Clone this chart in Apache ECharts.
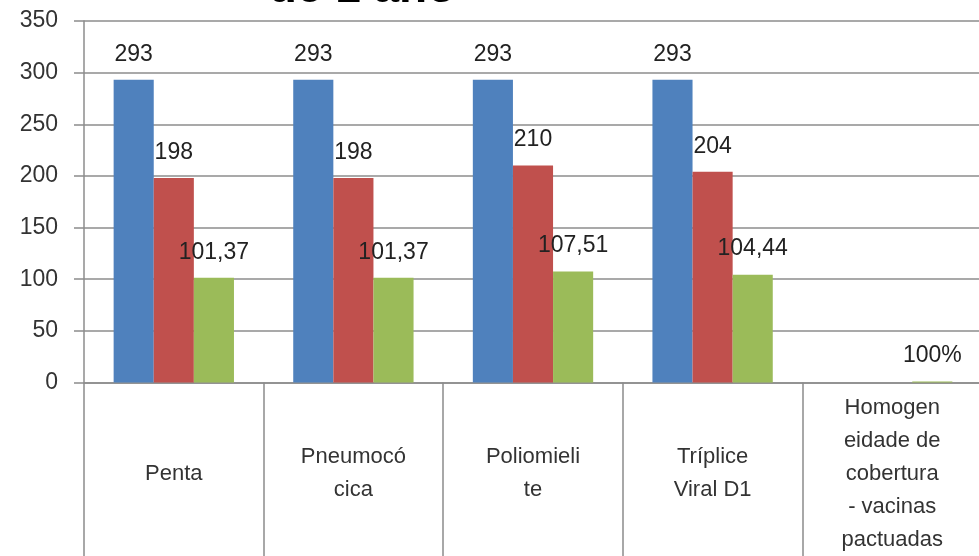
<!DOCTYPE html>
<html>
<head>
<meta charset="utf-8">
<script src="https://cdn.jsdelivr.net/npm/echarts@6/dist/echarts.min.js"></script>
<style>
  html, body { margin: 0; padding: 0; background: #fff; overflow: hidden; }
  #chart { width: 990px; height: 556px; }
</style>
</head>
<body>
<div id="chart"></div>
<script>
// categories (line breaks as in the picture)
var categories = [
  'Penta',
  'Pneumocó\ncica',
  'Poliomieli\nte',
  'Tríplice\nViral D1',
  'Homogen\neidade de\ncobertura\n- vacinas\npactuadas'
];
var blueValues = [293, 293, 293, 293, null];
var redValues = [198, 198, 210, 204, null];
var greenValues = [101.37, 101.37, 107.51, 104.44, 1];
var greenLabels = ['101,37', '101,37', '107,51', '104,44', '100%'];
var yTicks = [0, 50, 100, 150, 200, 250, 300, 350];

var font = 'Liberation Sans';
var grey = '#8c8c8c';

var myChart = echarts.init(document.getElementById('chart'));

function labelOpt(fmt) {
  return {
    show: true,
    position: 'top',
    distance: 14,
    fontFamily: font,
    fontSize: 23,
    color: '#222',
    formatter: fmt
  };
}

var option = {
  animation: false,
  backgroundColor: '#fff',
  graphic: [{
    type: 'text',
    style: {
      text: 'de 1 ano',
      x: 362,
      y: 12,
      align: 'center',
      verticalAlign: 'bottom',
      font: 'bold 46px "Liberation Sans"',
      fill: '#000'
    }
  }],
  grid: {
    left: 84,
    top: 21,
    width: 898,
    bottom: 172,
    containLabel: false
  },
  xAxis: {
    type: 'category',
    data: categories,
    axisLine: { show: true, lineStyle: { color: grey, width: 1.5 } },
    axisTick: { show: true, length: 175, lineStyle: { color: grey, width: 1.5 } },
    axisLabel: {
      interval: 0,
      margin: 91,
      verticalAlign: 'middle',
      lineHeight: 33,
      fontFamily: font,
      fontSize: 22,
      color: '#333'
    }
  },
  yAxis: {
    type: 'value',
    min: yTicks[0],
    max: yTicks[yTicks.length - 1],
    interval: 50,
    axisLine: { show: true, lineStyle: { color: grey, width: 1.5 } },
    axisTick: { show: true, length: 10, lineStyle: { color: grey, width: 1.5 } },
    splitLine: { show: true, lineStyle: { color: grey, width: 1.5 } },
    axisLabel: {
      margin: 26,
      fontFamily: font,
      fontSize: 23,
      color: '#333'
    }
  },
  series: [
    {
      name: 'azul',
      type: 'bar',
      data: blueValues,
      barGap: '0%',
      barCategoryGap: '33%',
      itemStyle: { color: '#4F81BD' },
      label: labelOpt('{c}')
    },
    {
      name: 'vermelho',
      type: 'bar',
      data: redValues,
      itemStyle: { color: '#C0504D' },
      label: labelOpt('{c}')
    },
    {
      name: 'verde',
      type: 'bar',
      data: greenValues,
      itemStyle: { color: '#9BBB59' },
      label: labelOpt(function (p) { return greenLabels[p.dataIndex]; })
    }
  ]
};

myChart.setOption(option);
</script>
</body>
</html>
